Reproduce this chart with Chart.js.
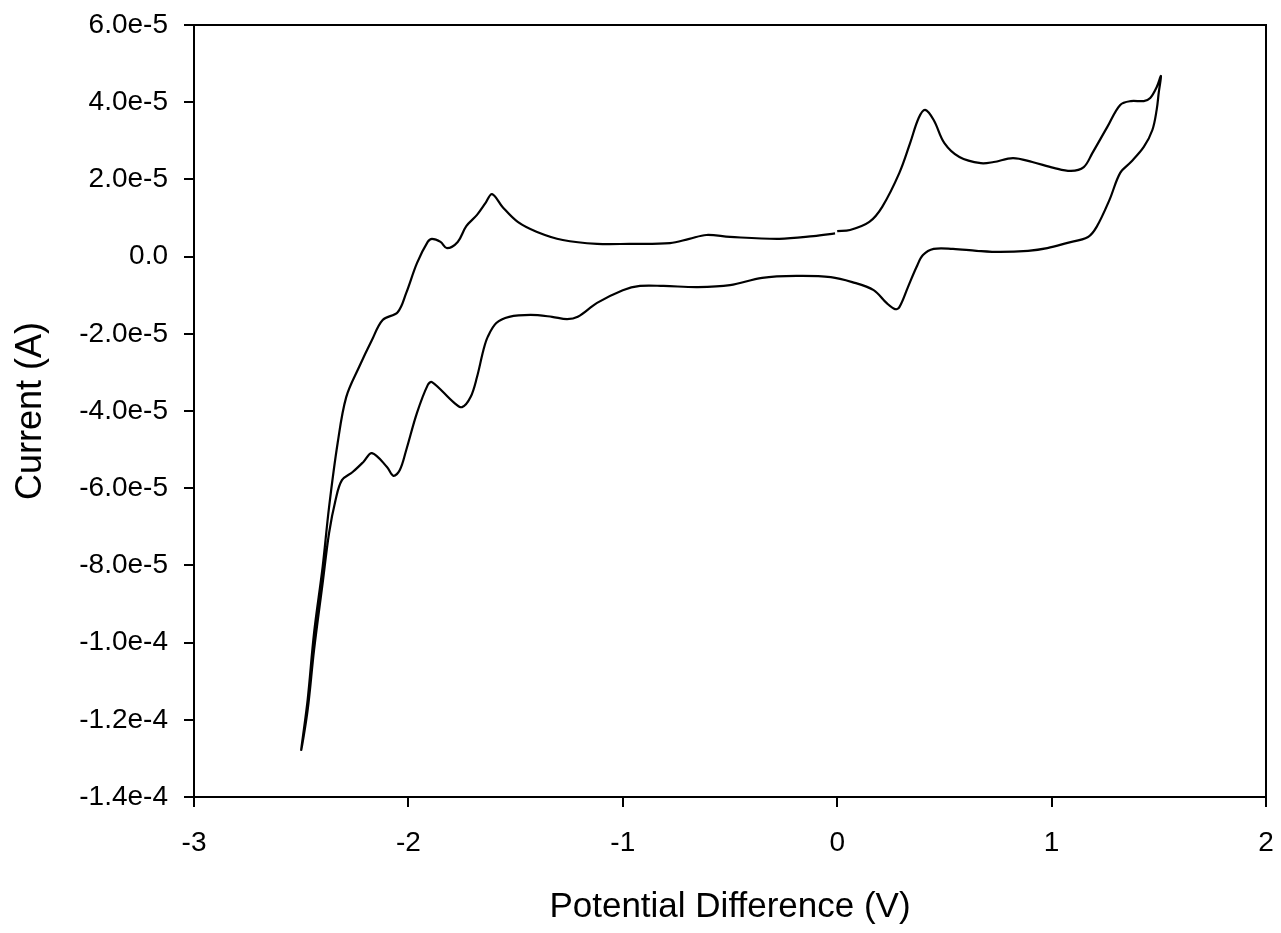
<!DOCTYPE html>
<html>
<head>
<meta charset="utf-8">
<script src="https://cdn.jsdelivr.net/npm/chart.js@4.4.1/dist/chart.umd.min.js"></script>
<style>
    html, body { margin: 0; padding: 0; background: #fff; }
    #wrap { width: 1281px; height: 933px; position: relative; }
</style>
</head>
<body>
<div id="wrap"><canvas id="grafica-cv"></canvas></div>
<script>
// Barrido: empieza en 0 V hacia +1.5 V, vuelve a -2.5 V y regresa a 0 V.
var potencial = [
    0.00, 0.06, 0.15, 0.21, 0.29, 0.34, 0.38, 0.41, 0.45, 0.50,
    0.57, 0.67, 0.73, 0.82, 0.91, 1.01, 1.09, 1.15, 1.19, 1.26,
    1.32, 1.37, 1.43, 1.46, 1.49, 1.51,
    1.50, 1.49, 1.47, 1.43, 1.37, 1.32, 1.27, 1.21, 1.17, 1.07,
    0.98, 0.89, 0.76, 0.65, 0.54, 0.45, 0.40, 0.37, 0.33, 0.29,
    0.27, 0.23, 0.17, 0.07, -0.03, -0.19, -0.35, -0.50, -0.65, -0.81,
    -0.92, -1.00, -1.12, -1.21, -1.26, -1.33, -1.43, -1.53, -1.59, -1.63,
    -1.65, -1.68, -1.71, -1.75, -1.79, -1.89, -1.91, -1.96, -2.01, -2.04,
    -2.07, -2.10, -2.17, -2.21, -2.26, -2.31, -2.34, -2.37, -2.40, -2.44,
    -2.47, -2.50,
    -2.47, -2.44, -2.40, -2.37, -2.33, -2.29, -2.23, -2.17, -2.12, -2.05,
    -2.01, -1.96, -1.91, -1.89, -1.85, -1.82, -1.77, -1.73, -1.68, -1.64,
    -1.61, -1.56, -1.49, -1.40, -1.28, -1.12, -0.97, -0.78, -0.69, -0.61,
    -0.50, -0.27, -0.11, -0.01,
];

var corriente = [
    0.66e-5, 0.69e-5, 0.90e-5, 1.29e-5, 2.17e-5, 2.94e-5, 3.59e-5, 3.80e-5, 3.54e-5, 2.94e-5,
    2.58e-5, 2.42e-5, 2.45e-5, 2.55e-5, 2.45e-5, 2.30e-5, 2.22e-5, 2.32e-5, 2.68e-5, 3.36e-5,
    3.93e-5, 4.03e-5, 4.03e-5, 4.11e-5, 4.39e-5, 4.68e-5,
    4.26e-5, 3.80e-5, 3.28e-5, 2.84e-5, 2.45e-5, 2.17e-5, 1.47e-5, 0.77e-5, 0.51e-5, 0.35e-5,
    0.22e-5, 0.15e-5, 0.12e-5, 0.15e-5, 0.20e-5, 0.20e-5, 0.04e-5, -0.27e-5, -0.79e-5, -1.31e-5,
    -1.36e-5, -1.20e-5, -0.87e-5, -0.66e-5, -0.53e-5, -0.50e-5, -0.55e-5, -0.74e-5, -0.79e-5, -0.76e-5,
    -0.76e-5, -0.87e-5, -1.20e-5, -1.56e-5, -1.62e-5, -1.56e-5, -1.51e-5, -1.56e-5, -1.72e-5, -2.08e-5,
    -2.42e-5, -3.12e-5, -3.64e-5, -3.90e-5, -3.77e-5, -3.25e-5, -3.33e-5, -4.05e-5, -5.01e-5, -5.53e-5,
    -5.68e-5, -5.45e-5, -5.09e-5, -5.32e-5, -5.58e-5, -5.79e-5, -6.31e-5, -7.16e-5, -8.46e-5, -10.19e-5,
    -11.75e-5, -12.78e-5,
    -11.49e-5, -9.75e-5, -8.04e-5, -6.49e-5, -4.83e-5, -3.64e-5, -2.86e-5, -2.16e-5, -1.64e-5, -1.44e-5,
    -0.94e-5, -0.17e-5, 0.38e-5, 0.46e-5, 0.38e-5, 0.22e-5, 0.38e-5, 0.79e-5, 1.08e-5, 1.39e-5,
    1.62e-5, 1.28e-5, 0.90e-5, 0.64e-5, 0.43e-5, 0.33e-5, 0.33e-5, 0.35e-5, 0.46e-5, 0.56e-5,
    0.51e-5, 0.46e-5, 0.53e-5, 0.60e-5,
];

var X_MIN = -3, X_MAX = 2, X_PASO = 1;
var Y_MIN = -1.4e-4, Y_MAX = 6e-5, Y_PASO = 2e-5;

var FUENTE = 'Liberation Sans, Arial, Helvetica, sans-serif';

var puntos = potencial.map(function (v, i) {
    return {x: v, y: corriente[i]};
});

function etiquetaY(v) {
    if (Math.abs(v) < 1e-12) {
        return '0.0';
    }

    return Number(v).toExponential(1);
}

// Quita el margen extra que Chart.js reserva para las etiquetas de los extremos.
function sinMargen(s) {
    s.paddingLeft = 0;
    s.paddingRight = 0;
    s.paddingTop = 0;
    s.paddingBottom = 0;
}

var ejeNegro = {display: true, color: '#000', width: 2};

new Chart(document.getElementById('grafica-cv'), {
    type: 'scatter',
    data: {
        datasets: [{
            data: puntos,
            showLine: true,
            borderColor: '#000',
            borderWidth: 2.2,
            pointRadius: 0,
            tension: 0.35,
            fill: false,
        }],
    },
    options: {
        responsive: true,
        maintainAspectRatio: false,
        animation: false,
        layout: {padding: {top: 25, right: 15, bottom: 0, left: 0}},
        plugins: {
            legend: {display: false},
            tooltip: {enabled: false},
        },
        scales: {
            x: {
                type: 'linear',
                position: 'bottom',
                min: X_MIN,
                max: X_MAX,
                border: ejeNegro,
                grid: {drawOnChartArea: false, drawTicks: true, tickLength: 10, color: '#000', lineWidth: 2},
                ticks: {
                    stepSize: X_PASO,
                    color: '#000',
                    padding: 19,
                    font: {family: FUENTE, size: 28},
                    maxRotation: 0,
                },
                title: {
                    display: true,
                    text: 'Potential Difference (V)',
                    color: '#000',
                    font: {family: FUENTE, size: 35},
                    padding: {top: 0, bottom: 5},
                },
                afterFit: function (s) {
                    s.height = 136;
                    sinMargen(s);
                },
            },
            y: {
                type: 'linear',
                position: 'left',
                min: Y_MIN,
                max: Y_MAX,
                border: ejeNegro,
                grid: {drawOnChartArea: false, drawTicks: true, tickLength: 10, color: '#000', lineWidth: 2},
                ticks: {
                    stepSize: Y_PASO,
                    color: '#000',
                    padding: 16,
                    font: {family: FUENTE, size: 28},
                    callback: etiquetaY,
                },
                title: {
                    display: true,
                    text: 'Current (A)',
                    color: '#000',
                    font: {family: FUENTE, size: 36},
                    padding: {top: 9, bottom: 0},
                },
                afterFit: function (s) {
                    s.width = 194;
                    sinMargen(s);
                },
            },
            xArriba: {
                type: 'linear',
                position: 'top',
                min: X_MIN,
                max: X_MAX,
                border: ejeNegro,
                grid: {display: false},
                ticks: {display: false},
                afterFit: function (s) {
                    s.height = 0;
                    sinMargen(s);
                },
            },
            yDerecha: {
                type: 'linear',
                position: 'right',
                min: Y_MIN,
                max: Y_MAX,
                border: ejeNegro,
                grid: {display: false},
                ticks: {display: false},
                afterFit: function (s) {
                    s.width = 0;
                    sinMargen(s);
                },
            },
        },
    },
});
</script>
</body>
</html>
